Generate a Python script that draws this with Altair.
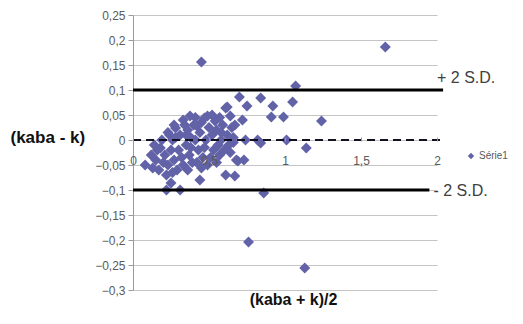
import altair as alt
import pandas as pd

# Bland-Altman scatter: mean (x) vs difference (y)
mean_vals = [
    0.08, 0.13, 0.12, 0.15, 0.16, 0.18, 0.17, 0.20, 0.19, 0.21, 0.14,
    0.22, 0.25, 0.24, 0.28, 0.22, 0.23, 0.25, 0.26, 0.27, 0.29, 0.26, 0.28, 0.30, 0.23, 0.27,
    0.31, 0.34, 0.375, 0.31, 0.32, 0.33, 0.35, 0.36, 0.37, 0.38, 0.39, 0.33, 0.36, 0.40, 0.35, 0.38,
    0.42, 0.44, 0.45, 0.47, 0.49, 0.41, 0.43, 0.44, 0.46, 0.48, 0.50, 0.45, 0.42, 0.47, 0.49, 0.41,
    0.54, 0.52, 0.53, 0.55, 0.56, 0.57, 0.58, 0.51, 0.55, 0.59, 0.60, 0.52, 0.57, 0.58,
    0.61, 0.62, 0.64, 0.61, 0.67, 0.69, 0.62, 0.63, 0.65, 0.66, 0.67, 0.68, 0.64, 0.66,
    0.70, 0.75, 0.72, 0.74, 0.82, 0.84, 0.84, 0.92, 0.91, 0.99, 1.05, 1.24, 1.01, 1.14,
    0.86, 0.76, 1.13, 1.07, 0.45, 1.66, 0.73,
]
diff_vals = [
    -0.05, -0.056, -0.03, -0.04, -0.02, -0.016, -0.06, -0.045, 0.0, -0.03, -0.01,
    -0.10, -0.086, 0.01, 0.024, -0.07, -0.05, -0.02, 0.0, -0.04, -0.06, -0.065, 0.005, -0.02, 0.015, 0.03,
    -0.10, 0.03, 0.048, 0.01, -0.035, -0.05, -0.01, 0.02, -0.03, 0.005, -0.045, 0.04, -0.06, 0.03, 0.01, -0.015,
    0.028, -0.08, -0.056, 0.044, 0.048, 0.0, -0.02, 0.015, -0.035, 0.0, 0.025, 0.035, -0.045, -0.015, -0.05, 0.045,
    0.038, 0.01, -0.02, 0.02, -0.01, 0.045, 0.0, -0.035, -0.045, 0.03, -0.02, 0.05, -0.03, 0.015,
    0.064, 0.066, 0.048, -0.07, -0.072, -0.042, 0.01, -0.01, 0.025, 0.005, 0.03, -0.04, -0.025, -0.005,
    0.086, 0.068, 0.04, 0.0, 0.0, -0.006, 0.084, 0.068, 0.046, 0.046, 0.076, 0.038, 0.0, -0.016,
    -0.106, -0.204, -0.256, 0.108, 0.156, 0.186, -0.04,
]
series_name = "Série1"

y_ticks = [-0.3, -0.25, -0.2, -0.15, -0.1, -0.05, 0.0, 0.05, 0.1, 0.15, 0.2, 0.25]
x_ticks = [0, 0.5, 1, 1.5, 2]

# reference lines: +2 S.D., mean, -2 S.D.
sd_y = [0.1, -0.1]
sd_x_end = [2.04, 1.95]
mean_diff = 0.0
mean_x_end = 2.04
sd_labels = ["+ 2 S.D.", "- 2 S.D."]

pts = pd.DataFrame({"mean": mean_vals, "diff": diff_vals, "series": series_name})
sd_df = pd.DataFrame({"diff": sd_y, "mean": [0, 0], "x1": sd_x_end})
mean_df = pd.DataFrame({"diff": [mean_diff], "mean": [0], "x1": [mean_x_end]})
lab_plus = pd.DataFrame({"mean": [2.0], "diff": [sd_y[0]], "t": [sd_labels[0]]})
lab_minus = pd.DataFrame({"mean": [1.99], "diff": [sd_y[1]], "t": [sd_labels[1]]})

xs = alt.Scale(domain=[0, 2], nice=False)
ys = alt.Scale(domain=[-0.3, 0.25], nice=False)

lbl_expr = "replace(datum.label, '.', ',')"

x_axis = alt.Axis(
    values=x_ticks, grid=False, offset=-153, domain=False, zindex=1,
    tickColor="#9a9a9a", tickSize=4, format=".1~f",
    labelExpr=lbl_expr, labelColor="#5a5a5a", labelFont="Liberation Sans",
    labelFontSize=12, labelPadding=14, labelOverlap=False, labelFlush=False,
    title="(kaba + k)/2", titleX=160, titleY=162, titleAlign="center",
    titleBaseline="middle", titleFont="Liberation Sans", titleFontSize=16,
    titleFontWeight="bold", titleColor="#111111",
)
y_axis = alt.Axis(
    values=y_ticks, grid=True, gridColor="#c4c4c4", format=".2~f",
    domainColor="#9a9a9a", tickColor="#9a9a9a", tickSize=5,
    labelExpr=lbl_expr, labelColor="#5a5a5a", labelFont="Liberation Sans",
    labelFontSize=12, labelPadding=3, labelOverlap=False, labelFlush=False,
    title="(kaba - k)", titleAngle=0, titleAlign="left", titleBaseline="middle",
    titleX=-123, titleY=122, titleFont="Liberation Sans", titleFontSize=17,
    titleFontWeight="bold", titleColor="#111111",
)


def X():
    return alt.X("mean:Q", scale=xs, axis=x_axis)


def Y():
    return alt.Y("diff:Q", scale=ys, axis=y_axis)


points = alt.Chart(pts).mark_point(shape="diamond", filled=True, size=120, opacity=1).encode(
    x=X(),
    y=Y(),
    color=alt.Color(
        "series:N",
        scale=alt.Scale(range=["#6262a8"]),
        legend=alt.Legend(
            orient="none", legendX=333, legendY=136, title=None,
            symbolType="diamond", symbolSize=40, symbolStrokeWidth=0,
            labelFontSize=10, labelColor="#5a5a5a", labelFont="Liberation Sans",
            padding=0, labelOffset=3,
        ),
    ),
)

sd_rules = alt.Chart(sd_df).mark_rule(color="#000000", strokeWidth=3).encode(
    x=X(), x2="x1:Q", y=Y()
)
mean_rule = alt.Chart(mean_df).mark_rule(color="#111122", strokeWidth=2, strokeDash=[8, 5]).encode(
    x=X(), x2="x1:Q", y=Y()
)

txt_plus = alt.Chart(lab_plus).mark_text(
    align="left", baseline="middle", dx=0, dy=-12, fontSize=16,
    font="Liberation Sans", color="#404040"
).encode(x=X(), y=Y(), text="t:N")
txt_minus = alt.Chart(lab_minus).mark_text(
    align="left", baseline="middle", dx=-2, dy=1, fontSize=16,
    font="Liberation Sans", color="#404040"
).encode(x=X(), y=Y(), text="t:N")

chart = alt.layer(points, sd_rules, mean_rule, txt_plus, txt_minus).properties(
    width=304, height=275,
    padding={"left": 125, "top": 7, "right": 78, "bottom": 26},
    autosize=alt.AutoSizeParams(type="none"),
).configure_view(stroke=None)

chart.save("out.html", embed_options={"renderer": "svg", "actions": False})
